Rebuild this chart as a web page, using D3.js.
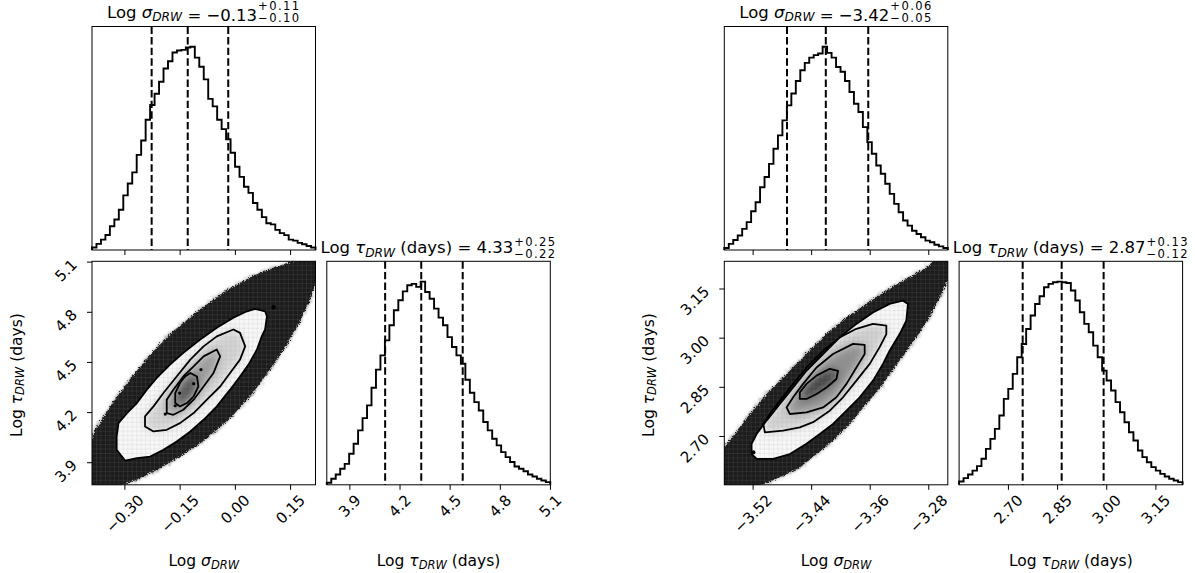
<!DOCTYPE html>
<html>
<head>
<meta charset="utf-8">
<script src="https://d3js.org/d3.v7.min.js"></script>
<style>
body { margin: 0; background: #fff; }
text { font-family: "DejaVu Sans", sans-serif; fill: #000; white-space: pre; }
</style>
</head>
<body>
<svg id="chart" width="1195" height="573"></svg>
<script>
// ---------- data ----------
// histogram heights, % of the tallest bin, 50 bins spanning each axis range
const sigmaBinsL = [1.2,3.0,5.1,7.4,11.7,15.0,19.8,26.9,32.7,38.2,46.8,53.9,64.1,71.4,76.9,82.8,89.3,92.9,97.2,98.2,
  98.5,99.7,100,94.7,90.2,84.0,74.4,70.7,64.1,59.5,54.5,47.9,41.0,36.0,31.1,28.1,23.1,19.8,16.2,13.2,
  12.6,9.9,8.3,7.3,5.1,4.6,3.5,2.8,2.0,1.2];
const tauBinsL = [1.0,3.0,5.1,7.9,10.3,15.3,20.2,26.8,32.8,39.1,47.8,56.7,63.7,71.1,78.5,85.9,90.8,95.2,98.2,98.9,
  97.4,100,94.9,91.6,86.7,82.3,78.5,72.7,67.8,63.7,59.6,51.7,45.3,40.7,36.6,30.9,26.8,22.7,19.4,16.1,
  13.6,11.2,9.0,7.9,6.7,5.1,4.1,3.0,2.1,1.3];
const sigmaBinsR = [1.0,3.0,4.9,7.1,10.4,13.7,19.1,23.5,30.9,35.9,42.4,49.8,56.4,63.8,71.2,77.0,83.2,88.5,92.1,94.7,
  95.9,96.7,100,97.0,94.7,90.1,87.7,83.2,77.8,72.0,67.9,60.5,53.1,47.4,41.6,37.5,32.6,27.6,22.7,18.6,
  14.5,12.0,9.5,7.9,6.3,4.6,3.8,2.6,1.8,1.0];
const tauBinsR = [1.6,3.3,5.1,7.0,9.2,12.8,17.7,22.6,27.5,34.1,42.3,47.2,54.6,62.8,69.3,76.7,83.3,89.0,92.8,97.2,
  98.9,99.7,100,99.7,99.3,95.6,90.7,84.9,79.2,75.1,68.5,62.8,56.2,51.3,46.4,40.7,35.7,30.8,25.9,21.8,
  16.9,13.6,11.1,8.7,7.0,5.4,4.1,3.0,2.1,1.3];

// axis ranges
const sigmaRangeL = [-0.388, 0.219];
const tauRangeL = [3.765, 5.102];
const sigmaRangeR = [-3.5587, -3.2533];
const tauRangeR = [2.551, 3.233];

// tick values
const sigmaTicksL = [-0.30, -0.15, 0.00, 0.15];
const tauTicksL = [3.9, 4.2, 4.5, 4.8, 5.1];
const sigmaTicksR = [-3.52, -3.44, -3.36, -3.28];
const tauTicksR = [2.70, 2.85, 3.00, 3.15];

// 16th / 50th / 84th percentiles (dashed lines)
const sigmaQuantL = [-0.226, -0.128, -0.018];
const tauQuantL = [4.114, 4.330, 4.578];
const sigmaQuantR = [-3.473, -3.420, -3.362];
const tauQuantR = [2.745, 2.864, 2.992];

// title numbers: [median, +err, -err]
const sigmaSummaryL = [-0.13, 0.11, 0.10];
const tauSummaryL = [4.33, 0.25, 0.22];
const sigmaSummaryR = [-3.42, 0.06, 0.05];
const tauSummaryR = [2.87, 0.13, 0.12];

// 2D panels: outline of the scatter cloud and the four contour levels, [log sigma, log tau]
const cloudL = [[-0.411,3.974],[-0.388,4.044],[-0.380,4.094],[-0.366,4.134],[-0.330,4.264],[-0.275,4.424],[-0.221,4.564],
  [-0.167,4.684],[-0.112,4.784],[-0.058,4.874],[-0.004,4.953],[0.051,5.017],[0.105,5.064],[0.150,5.097],[0.200,5.120],
  [0.232,5.120],[0.232,5.054],[0.219,4.974],[0.205,4.874],[0.177,4.743],[0.141,4.604],[0.105,4.484],[0.069,4.374],
  [0.033,4.274],[-0.004,4.184],[-0.049,4.094],[-0.094,4.014],[-0.149,3.934],[-0.203,3.864],[-0.257,3.804],
  [-0.303,3.764],[-0.366,3.734],[-0.411,3.774]];
const level1L = [[0.055,4.818],[0.082,4.803],[0.087,4.773],[0.082,4.694],[0.073,4.653],[0.060,4.574],[0.037,4.484],
  [0.014,4.413],[-0.013,4.334],[-0.049,4.234],[-0.085,4.154],[-0.121,4.084],[-0.158,4.024],[-0.194,3.974],
  [-0.230,3.934],[-0.266,3.924],[-0.298,3.910],[-0.321,3.974],[-0.321,4.054],[-0.316,4.134],[-0.293,4.194],
  [-0.266,4.254],[-0.239,4.334],[-0.212,4.404],[-0.176,4.484],[-0.140,4.554],[-0.094,4.634],[-0.049,4.704],
  [-0.004,4.764],[0.033,4.803]];
const level2L = [[-0.004,4.694],[0.014,4.674],[0.028,4.593],[0.014,4.514],[-0.013,4.434],[-0.040,4.353],[-0.076,4.274],
  [-0.112,4.194],[-0.149,4.134],[-0.185,4.094],[-0.221,4.084],[-0.244,4.114],[-0.244,4.174],[-0.221,4.234],
  [-0.194,4.314],[-0.158,4.413],[-0.121,4.514],[-0.085,4.593],[-0.049,4.653]];
const level3L = [[-0.049,4.574],[-0.040,4.533],[-0.058,4.434],[-0.085,4.353],[-0.112,4.274],[-0.140,4.214],[-0.167,4.184],
  [-0.185,4.194],[-0.185,4.274],[-0.167,4.334],[-0.140,4.413],[-0.112,4.473],[-0.085,4.533]];
const level4L = [[-0.121,4.434],[-0.103,4.413],[-0.099,4.353],[-0.112,4.294],[-0.130,4.254],[-0.149,4.234],[-0.162,4.254],
  [-0.162,4.314],[-0.149,4.374],[-0.135,4.413]];
const strayL = [[0.105,4.827],[-0.092,4.454],[-0.112,4.370],[-0.189,4.188],[-0.162,4.238],[-0.150,4.314]];

const cloudR = [[-3.5737,2.640],[-3.5587,2.665],[-3.5465,2.701],[-3.5237,2.767],[-3.5009,2.828],[-3.4736,2.889],
  [-3.4464,2.950],[-3.4191,3.011],[-3.3918,3.062],[-3.3645,3.103],[-3.3373,3.144],[-3.3100,3.179],[-3.2827,3.213],
  [-3.2700,3.240],[-3.2400,3.240],[-3.2441,3.205],[-3.2533,3.174],[-3.2646,3.123],[-3.2782,3.062],[-3.2964,3.001],
  [-3.3191,2.930],[-3.3419,2.859],[-3.3645,2.798],[-3.3873,2.737],[-3.4101,2.686],[-3.4327,2.645],[-3.4555,2.604],
  [-3.4828,2.574],[-3.5100,2.548],[-3.5465,2.523],[-3.5737,2.533]];
const level1R = [[-3.3146,3.113],[-3.3078,3.103],[-3.3100,3.052],[-3.3191,3.011],[-3.3328,2.960],[-3.3419,2.920],
  [-3.3555,2.869],[-3.3737,2.818],[-3.3918,2.777],[-3.4101,2.737],[-3.4282,2.706],[-3.4464,2.676],[-3.4691,2.645],
  [-3.4919,2.630],[-3.5145,2.630],[-3.5214,2.645],[-3.5214,2.676],[-3.5145,2.706],[-3.5009,2.747],[-3.4828,2.798],
  [-3.4646,2.848],[-3.4464,2.899],[-3.4237,2.950],[-3.4010,3.001],[-3.3782,3.042],[-3.3555,3.077],[-3.3328,3.103]];
const level2R = [[-3.3555,3.042],[-3.3373,3.037],[-3.3373,3.011],[-3.3464,2.971],[-3.3600,2.920],[-3.3782,2.869],
  [-3.3965,2.818],[-3.4146,2.777],[-3.4374,2.742],[-3.4555,2.726],[-3.4783,2.716],[-3.5032,2.711],[-3.5055,2.737],
  [-3.4964,2.767],[-3.4828,2.808],[-3.4646,2.859],[-3.4464,2.909],[-3.4237,2.960],[-3.4010,3.001],[-3.3782,3.027]];
const level3R = [[-3.3828,2.981],[-3.3669,2.978],[-3.3669,2.950],[-3.3782,2.909],[-3.3918,2.859],[-3.4055,2.818],
  [-3.4237,2.787],[-3.4464,2.772],[-3.4691,2.767],[-3.4736,2.787],[-3.4646,2.818],[-3.4510,2.859],[-3.4327,2.909],
  [-3.4101,2.950]];
const level4R = [[-3.4146,2.905],[-3.4033,2.899],[-3.4055,2.874],[-3.4191,2.848],[-3.4327,2.828],[-3.4464,2.813],
  [-3.4555,2.813],[-3.4555,2.833],[-3.4464,2.859],[-3.4327,2.884]];
const strayR = [[-3.5192,2.650]];

// ---------- drawing ----------
const S = 223.5, G = 11.3;
const FT = 16.5, FL = 15.5, FK = 15;   // title, label, tick font sizes

const svg = d3.select("#chart");
svg.append("rect").attr("width", 1195).attr("height", 573).attr("fill", "#fff");
const defs = svg.append("defs");

function fuzzFilter(id, scale, blur) {
  const f = defs.append("filter").attr("id", id)
    .attr("x", "-10%").attr("y", "-10%").attr("width", "120%").attr("height", "120%");
  f.append("feTurbulence").attr("type", "fractalNoise").attr("baseFrequency", 0.8)
    .attr("numOctaves", 2).attr("result", "noise");
  f.append("feDisplacementMap").attr("in", "SourceGraphic").attr("in2", "noise")
    .attr("scale", scale).attr("xChannelSelector", "R").attr("yChannelSelector", "G").attr("result", "d");
  f.append("feGaussianBlur").attr("in", "d").attr("stdDeviation", blur);
}
fuzzFilter("fuzzOuter", 12, 0.8);
fuzzFilter("fuzzInner", 5, 0.4);
defs.append("filter").attr("id", "soft").attr("x", "-20%").attr("y", "-20%")
  .attr("width", "140%").attr("height", "140%")
  .append("feGaussianBlur").attr("stdDeviation", 5);

const f2 = d3.format("+.2f");

function mathLabel(sel, sym, unit, size) {
  sel.append("tspan").text("Log ");
  sel.append("tspan").attr("font-style", "italic").text(sym);
  sel.append("tspan").attr("font-style", "italic").style("font-size", (size * 0.74) + "px")
    .attr("dy", size * 0.2).text("DRW");
  sel.append("tspan").attr("dy", -size * 0.2).text(unit);
}

function title(p, cx, y, sym, unit, summary, fmt) {
  const g = p.append("g");
  const main = g.append("text").attr("y", y).style("font-size", FT + "px");
  mathLabel(main, sym, unit, FT);
  main.append("tspan").text(" = " + fmt(summary[0]));
  const mw = main.node().getComputedTextLength();
  const fs = FT * 0.7;
  const sup = g.append("text").attr("x", mw + 1).attr("y", y - 7.7)
    .style("font-size", fs + "px").style("letter-spacing", "1.4px").text(f2(summary[1]));
  const sub = g.append("text").attr("x", mw + 1).attr("y", y + 4.6)
    .style("font-size", fs + "px").style("letter-spacing", "1.4px").text(f2(-summary[2]));
  const tw = mw + 1 + Math.max(sup.node().getComputedTextLength(), sub.node().getComputedTextLength());
  g.attr("transform", `translate(${cx - tw / 2},0)`);
}

function rotateX(axisG) {
  axisG.selectAll(".tick text").each(function () {
    const t = d3.select(this).attr("dy", null).attr("x", 0)
      .style("font-size", FK + "px").attr("text-anchor", "middle").attr("dominant-baseline", "central");
    const w = this.getComputedTextLength();
    const cy = 7 + (w + 1.1 * FK) / (2 * Math.SQRT2);
    t.attr("y", cy).attr("transform", `rotate(-45,0,${cy})`);
  });
}
function rotateY(axisG) {
  axisG.selectAll(".tick text").each(function () {
    d3.select(this).attr("dy", null).attr("x", -17.5).attr("y", 0)
      .style("font-size", FK + "px").attr("text-anchor", "end").attr("dominant-baseline", "central")
      .attr("transform", "rotate(-45,-17.5,0)");
  });
}
function styleAxis(axisG) {
  axisG.select(".domain").remove();
  axisG.selectAll(".tick line").attr("stroke", "#000").attr("stroke-width", 1);
}

const hy = d3.scaleLinear().domain([0, 110]).range([S, 0]);

function histogram(p, xs, bins, quant) {
  const dom = xs.domain(), n = bins.length, w = (dom[1] - dom[0]) / n;
  const pts = [[dom[0], 0]];
  bins.forEach((v, i) => pts.push([dom[0] + i * w, v]));
  pts.push([dom[1], bins[n - 1]], [dom[1], 0]);
  p.append("path")
    .attr("d", d3.line().x(d => xs(d[0])).y(d => hy(d[1])).curve(d3.curveStepAfter)(pts))
    .attr("fill", "none").attr("stroke", "#000").attr("stroke-width", 1.9);
  p.selectAll("line.q").data(quant).join("line").attr("class", "q")
    .attr("x1", d => xs(d)).attr("x2", d => xs(d)).attr("y1", 0).attr("y2", S)
    .attr("stroke", "#000").attr("stroke-width", 2).attr("stroke-dasharray", "7.4,3.2");
  p.append("rect").attr("width", S).attr("height", S).attr("fill", "none").attr("stroke", "#000").attr("stroke-width", 1);
}

function corner(o) {
  const root = svg.append("g").attr("transform", `translate(${o.ox},${o.oy})`);
  const x = d3.scaleLinear().domain(o.sigRange).range([0, S]);
  const tx = d3.scaleLinear().domain(o.tauRange).range([0, S]);
  const ty = d3.scaleLinear().domain(o.tauRange).range([S, 0]);

  // top: log sigma histogram
  const pA = root.append("g");
  histogram(pA, x, o.sigBins, o.sigQuant);
  pA.append("g").attr("transform", `translate(0,${S})`)
    .call(d3.axisBottom(x).tickValues(o.sigTicks).tickSize(5).tickFormat(""))
    .call(styleAxis);
  title(pA, S / 2, -9, "σ", "", o.sigSummary, d3.format(".2f"));

  // bottom-right: log tau histogram
  const pB = root.append("g").attr("transform", `translate(${S + G},${S + G})`);
  histogram(pB, tx, o.tauBins, o.tauQuant);
  pB.append("g").attr("transform", `translate(0,${S})`)
    .call(d3.axisBottom(tx).tickValues(o.tauTicks).tickSize(5).tickFormat(d3.format(o.tauFmt)))
    .call(styleAxis).call(rotateX);
  title(pB, S / 2, -8, "τ", " (days)", o.tauSummary, d3.format(".2f"));
  const lb = pB.append("text").attr("x", S / 2).attr("y", S + 81).attr("text-anchor", "middle").style("font-size", FL + "px");
  mathLabel(lb, "τ", " (days)", FL);

  // bottom-left: 2D density
  const pC = root.append("g").attr("transform", `translate(0,${S + G})`);
  const clipId = "clip" + o.key, lvlId = "lvl" + o.key, cloudId = "cloud" + o.key;
  const line = d3.line().x(d => x(d[0])).y(d => ty(d[1])).curve(d3.curveLinearClosed);
  defs.append("clipPath").attr("id", clipId).append("rect").attr("width", S).attr("height", S);
  defs.append("clipPath").attr("id", lvlId).append("path").attr("d", line(o.levels[0]));
  defs.append("clipPath").attr("id", cloudId).append("path").attr("d", line(o.cloud));
  const inner = pC.append("g").attr("clip-path", `url(#${clipId})`);
  inner.append("path").attr("d", line(o.cloud)).attr("fill", "#444").attr("opacity", 0.75).attr("filter", "url(#fuzzOuter)");
  inner.append("path").attr("d", line(o.cloud)).attr("fill", "#1b1b1b").attr("filter", "url(#fuzzInner)");
  inner.append("path").attr("d", line(o.levels[0])).attr("fill", o.shades[0]);
  const dens = inner.append("g").attr("clip-path", `url(#${lvlId})`).append("g").attr("filter", "url(#soft)");
  o.levels.slice(1).forEach((lv, i) => dens.append("path").attr("d", line(lv)).attr("fill", o.shades[i + 1]));
  // faint bin grid
  const grid = inner.append("g").attr("clip-path", `url(#${cloudId})`)
    .attr("stroke", "#999").attr("stroke-opacity", 0.22).attr("stroke-width", 0.6);
  const nb = 50;
  grid.selectAll("line.gx").data(d3.range(nb + 1)).join("line").attr("class", "gx")
    .attr("x1", i => x(o.sigRange[0] + i * (o.sigRange[1] - o.sigRange[0]) / nb))
    .attr("x2", i => x(o.sigRange[0] + i * (o.sigRange[1] - o.sigRange[0]) / nb))
    .attr("y1", 0).attr("y2", S);
  grid.selectAll("line.gy").data(d3.range(nb + 1)).join("line").attr("class", "gy")
    .attr("y1", i => ty(o.tauRange[0] + i * (o.tauRange[1] - o.tauRange[0]) / nb))
    .attr("y2", i => ty(o.tauRange[0] + i * (o.tauRange[1] - o.tauRange[0]) / nb))
    .attr("x1", 0).attr("x2", S);
  inner.selectAll("path.lvl").data(o.levels).join("path").attr("class", "lvl")
    .attr("d", line).attr("fill", "none").attr("stroke", "#000").attr("stroke-width", 1.8)
    .attr("stroke-linejoin", "round");
  inner.selectAll("circle").data(o.stray).join("circle")
    .attr("cx", d => x(d[0])).attr("cy", d => ty(d[1])).attr("r", (d, i) => i === 0 ? 2.2 : 1.6).attr("fill", "#000");
  pC.append("rect").attr("width", S).attr("height", S).attr("fill", "none").attr("stroke", "#000").attr("stroke-width", 1);
  pC.append("g").attr("transform", `translate(0,${S})`)
    .call(d3.axisBottom(x).tickValues(o.sigTicks).tickSize(5).tickFormat(d3.format(".2f")))
    .call(styleAxis).call(rotateX);
  pC.append("g")
    .call(d3.axisLeft(ty).tickValues(o.tauTicks).tickSize(5).tickFormat(d3.format(o.tauFmt)))
    .call(styleAxis).call(rotateY);
  const lx = pC.append("text").attr("x", S / 2).attr("y", S + 81).attr("text-anchor", "middle").style("font-size", FL + "px");
  mathLabel(lx, "σ", "", FL);
  const ly = pC.append("text").attr("text-anchor", "middle").attr("dominant-baseline", "central")
    .attr("transform", `translate(-75.5,${S / 2 + 2}) rotate(-90)`).style("font-size", FL + "px");
  mathLabel(ly, "τ", " (days)", FL);
}

corner({
  key: "L", ox: 92, oy: 26.5,
  sigRange: sigmaRangeL, tauRange: tauRangeL, sigBins: sigmaBinsL, tauBins: tauBinsL,
  sigTicks: sigmaTicksL, tauTicks: tauTicksL, tauFmt: ".1f",
  sigQuant: sigmaQuantL, tauQuant: tauQuantL, sigSummary: sigmaSummaryL, tauSummary: tauSummaryL,
  cloud: cloudL, levels: [level1L, level2L, level3L, level4L], stray: strayL,
  shades: ["#f7f7f7", "#d3d3d3", "#9c9c9c", "#575757"]
});
corner({
  key: "R", ox: 724.3, oy: 26.5,
  sigRange: sigmaRangeR, tauRange: tauRangeR, sigBins: sigmaBinsR, tauBins: tauBinsR,
  sigTicks: sigmaTicksR, tauTicks: tauTicksR, tauFmt: ".2f",
  sigQuant: sigmaQuantR, tauQuant: tauQuantR, sigSummary: sigmaSummaryR, tauSummary: tauSummaryR,
  cloud: cloudR, levels: [level1R, level2R, level3R, level4R], stray: strayR,
  shades: ["#f7f7f7", "#d0d0d0", "#8f8f8f", "#3a3a3a"]
});
</script>
</body>
</html>
